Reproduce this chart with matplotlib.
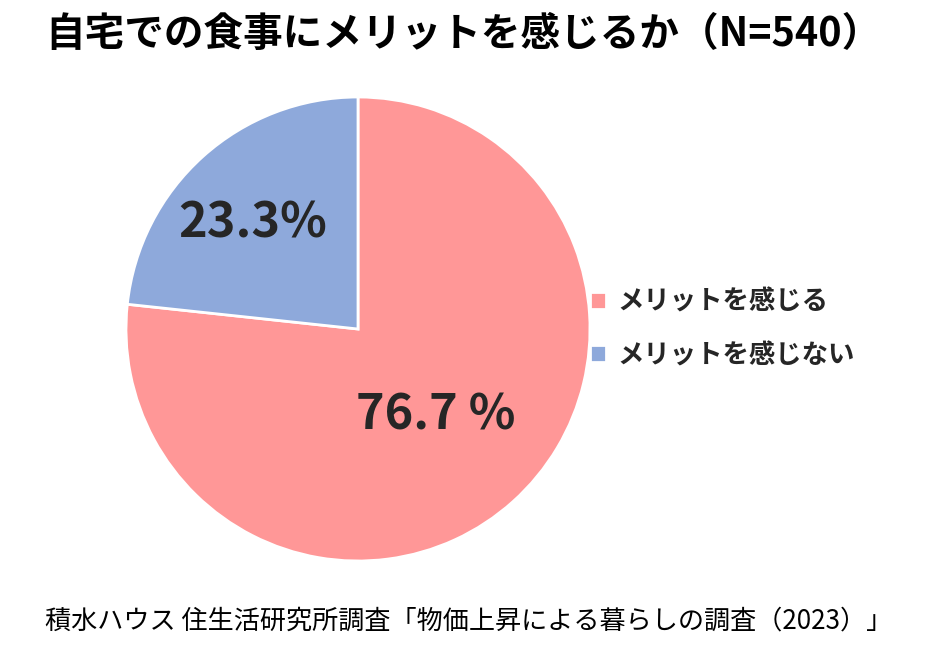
import matplotlib.pyplot as plt

plt.rcParams['font.family'] = ['Noto Sans CJK JP', 'DejaVu Sans']

labels = ['メリットを感じる', 'メリットを感じない']
values = [76.7, 23.3]
pct_text = ['76.7 %', '23.3%']
colors = ['#FF9797', '#8EA9DB']

title = '自宅での食事にメリットを感じるか（N=540）'
source = '積水ハウス 住生活研究所調査「物価上昇による暮らしの調査（2023）」'

fig = plt.figure(figsize=(9.4, 6.57), dpi=100)
ax = fig.add_axes([126 / 940, 96 / 657, 464 / 940, 464 / 657])

wedges, _ = ax.pie(values, colors=colors, startangle=90, counterclock=False,
                   wedgeprops=dict(edgecolor='white', linewidth=2))
ax.set_xlim(-1, 1)
ax.set_ylim(-1, 1)
ax.set_aspect('equal')

# percentage labels, placed by hand like the original
ax.text(0.335, -0.37, pct_text[0], ha='center', va='center',
        fontsize=35, fontweight='bold', color='#262626')
ax.text(-0.455, 0.455, pct_text[1], ha='center', va='center',
        fontsize=35, fontweight='bold', color='#262626')

fig.legend(wedges, labels, loc='upper left', bbox_to_anchor=(566 / 940, 1 - 265 / 657),
           frameon=False, handlelength=0.6, handleheight=0.6, handletextpad=0.45,
           labelspacing=1.0, prop=dict(size=19, weight='bold'), labelcolor='#262626')

fig.text(45 / 940, 1 - 35 / 657, title, ha='left', va='center',
         fontsize=28.5, fontweight='bold', color='black')
fig.text(45 / 940, 1 - 621 / 657, source, ha='left', va='center',
         fontsize=18.8, color='black')

fig.savefig('out.png', dpi=100)
plt.close(fig)
